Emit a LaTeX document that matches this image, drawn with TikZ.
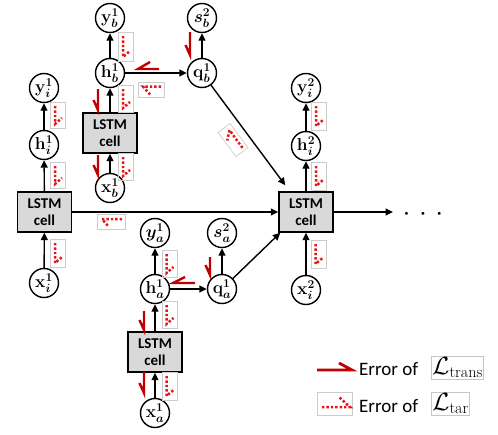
\documentclass[tikz,border=0pt]{standalone}
\usepackage{amsmath}
\usepackage{fontspec}
\newfontfamily\calib{Carlito}
\usetikzlibrary{arrows.meta}
\definecolor{errsolid}{RGB}{192,0,0}
\definecolor{errdot}{RGB}{228,22,22}
\definecolor{cellgray}{RGB}{217,217,217}

% dotted error glyph along a vertical link: centre x, centre y, box height
\newcommand\errvert[3]{%
  \draw[dotbox] (#1-7.5,#2-#3/2) rectangle (#1+7.5,#2+#3/2);
  \draw[dots] (#1-3,#2-#3/2+4) -- (#1-3,#2+#3/2-4) -- (#1+4,#2+#3/2-10);}
% dotted error glyph pointing left: centre x, centre y, box width
\newcommand\errleft[3]{%
  \draw[dotbox] (#1-#3/2,#2-7.5) rectangle (#1+#3/2,#2+7.5);
  \draw[dots] (#1+#3/2-3,#2-3) -- (#1-#3/2+5,#2-3) -- (#1-#3/2+12,#2+5);}

\begin{document}
\begin{tikzpicture}[x=1pt,y=-1pt,
  var/.style={circle,draw,line width=1.4pt,minimum size=29pt,inner sep=0pt,
    font=\boldmath\fontsize{17}{19}\selectfont},
  cell/.style={draw,line width=1.4pt,fill=cellgray,minimum width=54pt,
    minimum height=40pt,inner sep=0pt,align=center,
    font=\calib\bfseries\fontsize{15}{17}\selectfont},
  flow/.style={line width=1.4pt,-{Triangle[length=7.5pt,width=7pt]}},
  harp/.style={errsolid,line width=2.4pt,line join=miter},
  dotbox/.style={draw=gray!40,line width=0.7pt},
  dots/.style={errdot,line width=2.5pt,dash pattern=on 2.4pt off 2pt},
  legtext/.style={anchor=base west,inner sep=0pt,font=\calib\fontsize{19}{21}\selectfont},
  legbox/.style={draw=gray!45,line width=0.7pt,inner sep=1pt,anchor=west,
    font=\fontsize{23}{25}\selectfont},
]
\useasboundingbox (0,0) rectangle (498,434);

% input chain i, first step
\node[cell] (Li) at (44.5,212) {LSTM\\cell};
\node[var] (xi1) at (44,283) {$\mathbf{x}_i^1$};
\node[var] (hi1) at (44,145) {$\mathbf{h}_i^1$};
\node[var] (yi1) at (44,88) {$\mathbf{y}_i^1$};

% branch b
\node[cell] (Lb) at (110,133) {LSTM\\cell};
\node[var] (xb1) at (110,188) {$\mathbf{x}_b^1$};
\node[var] (hb1) at (110,73) {$\mathbf{h}_b^1$};
\node[var] (yb1) at (110,18) {$\mathbf{y}_b^1$};
\node[var] (qb1) at (202,73) {$\mathbf{q}_b^1$};
\node[var] (sb2) at (202,18) {$s_b^2$};

% branch a
\node[cell] (La) at (155,352) {LSTM\\cell};
\node[var] (xa1) at (155,413) {$\mathbf{x}_a^1$};
\node[var] (ha1) at (155,289) {$\mathbf{h}_a^1$};
\node[var] (ya1) at (155,233) {$y_a^1$};
\node[var] (qa1) at (222,289) {$\mathbf{q}_a^1$};
\node[var] (sa2) at (222,233) {$s_a^2$};

% second step
\node[cell] (L2) at (306,212) {LSTM\\cell};
\node[var] (xi2) at (306,290) {$\mathbf{x}_i^2$};
\node[var] (hi2) at (306,146) {$\mathbf{h}_i^2$};
\node[var] (yi2) at (306,88) {$\mathbf{y}_i^2$};
\coordinate (out) at (393,212);
\node[inner sep=0pt,font=\fontsize{11}{11}\selectfont] (more) at (423,214)
  {\textbullet\hspace{8pt}\textbullet\hspace{8pt}\textbullet};

% forward links
\draw[flow] (xi1) -- (Li);
\draw[flow] (Li) -- (hi1);
\draw[flow] (hi1) -- (yi1);
\draw[flow] (xb1) -- (Lb);
\draw[flow] (Lb) -- (hb1);
\draw[flow] (hb1) -- (yb1);
\draw[flow] (hb1) -- (qb1);
\draw[flow] (qb1) -- (sb2);
\draw[flow] (xa1) -- (La);
\draw[flow] (La) -- (ha1);
\draw[flow] (ha1) -- (ya1);
\draw[flow] (ha1) -- (qa1);
\draw[flow] (qa1) -- (sa2);
\draw[flow] (Li) -- (L2);
\draw[flow] (qb1) -- ([shift={(7,-6)}]L2.north west);
\draw[flow] (qa1) -- ([shift={(2,0)}]L2.south west);
\draw[flow] (xi2) -- (L2);
\draw[flow] (L2) -- (hi2);
\draw[flow] (hi2) -- (yi2);
\draw[flow] (L2) -- (out);

% back-propagated error of the transfer loss
\draw[harp] (93.5,100) -- (98,110) -- (98,89);
\draw[harp] (93.5,165) -- (98,175) -- (98,155);
\draw[harp] (185.5,45) -- (190,55) -- (190,32);
\draw[harp] (139.5,320) -- (144,330) -- (144,311);
\draw[harp] (139.5,383) -- (144,393) -- (144,372);
\draw[harp] (205.5,265) -- (210,275) -- (210,257);
\draw[harp] (150,62) -- (138,69) -- (159,69);
\draw[harp] (185,277) -- (173,283) -- (195,283);

% back-propagated error of the target loss
\errvert{126}{46.5}{29}
\errvert{126}{98.5}{27}
\errvert{126}{166.5}{27}
\errvert{58}{115}{26}
\errvert{58}{175}{26}
\errvert{58}{253}{28}
\errvert{169.5}{263.5}{27}
\errvert{169.5}{314.5}{27}
\errvert{169.5}{386}{28}
\errvert{319}{116}{28}
\errvert{319}{176}{28}
\errvert{318.5}{254}{28}
\errleft{151}{89.5}{26}
\errleft{111}{222}{28}
\begin{scope}[shift={(233,140)},rotate=-53.6]
  \errleft{0}{0}{30}
\end{scope}

% legend
\draw[harp,line width=2.8pt] (317,370) -- (352,370) -- (339,363);
\node[legtext] (lt1) at (359,375) {Error of};
\node[legbox] (lb1) at (431,367.5) {$\mathcal{L}_{\mathrm{trans}}$};
\draw[dotbox] (317,392) rectangle (352,415);
\draw[dots] (322,407) -- (350,407) -- (339,397);
\node[legtext] (lt2) at (359,412) {Error of};
\node[legbox] (lb2) at (431,403.5) {$\mathcal{L}_{\mathrm{tar}}$};
\end{tikzpicture}
\end{document}
